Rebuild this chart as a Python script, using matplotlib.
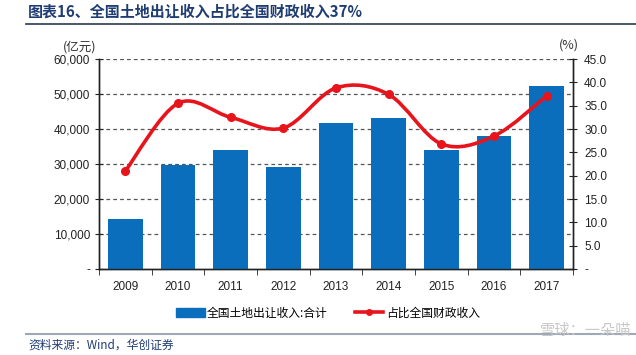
import numpy as np
import matplotlib
matplotlib.use("Agg")
import matplotlib.pyplot as plt
from matplotlib.path import Path
from matplotlib.patches import PathPatch
from matplotlib.lines import Line2D
from matplotlib.ticker import FuncFormatter

plt.rcParams['font.family'] = ['Liberation Sans', 'Noto Sans CJK SC', 'DejaVu Sans']

years = ['2009', '2010', '2011', '2012', '2013', '2014', '2015', '2016', '2017']
land_income = [14240, 29700, 33950, 29150, 41600, 43200, 34000, 37900, 52300]
share_pct = [21.0, 35.5, 32.5, 30.2, 38.8, 37.4, 26.8, 28.5, 37.1]

BLUE = '#0a6ebd'
RED = '#e8141c'
NAVY = '#1f3c73'
CJK = ['Noto Sans CJK SC', 'DejaVu Sans']


def smooth_path(xs, ys):
    # Excel style smoothed line: cubic bezier through every point
    pts = np.column_stack([xs, ys]).astype(float)
    n = len(pts)
    verts = [pts[0]]
    codes = [Path.MOVETO]
    for i in range(n - 1):
        p0 = pts[i - 1] if i > 0 else pts[i]
        p1 = pts[i]
        p2 = pts[i + 1]
        p3 = pts[i + 2] if i + 2 < n else pts[i + 1]
        c1 = p1 + (p2 - p0) / 6.0
        c2 = p2 - (p3 - p1) / 6.0
        verts += [c1, c2, p2]
        codes += [Path.CURVE4] * 3
    return Path(verts, codes)


fig = plt.figure(figsize=(6.36, 3.55), dpi=100)
ax = fig.add_axes([99 / 636, 86 / 355, 474 / 636, 210 / 355])
ax2 = ax.twinx()

x = np.arange(len(years))
ax.bar(x, land_income, width=0.66, color=BLUE, zorder=3)
ax.set_xlim(-0.5, len(years) - 0.5)
ax.set_ylim(0, 60000)
ax.set_yticks(np.arange(0, 60001, 10000))
ax.yaxis.set_major_formatter(FuncFormatter(lambda v, p: '-' if v == 0 else f'{int(v):,}'))
for v in range(10000, 60001, 10000):
    ax.axhline(v, color='#555555', lw=0.9, ls=(0, (3, 2.5)), zorder=1)

ax.set_xticks(x)
ax.set_xticklabels(years)
ax.set_xticks(np.arange(-0.5, len(years)), minor=True)
ax.tick_params(axis='x', which='major', length=0, pad=9, labelsize=8.5, colors='#222222')
ax.tick_params(axis='x', which='minor', length=4, direction='out', color='#222222')
ax.tick_params(axis='y', direction='inout', length=6, labelsize=8.5, colors='#222222')

ax2.set_ylim(0, 45)
ax2.set_yticks(np.arange(0, 45.1, 5))
ax2.yaxis.set_major_formatter(FuncFormatter(lambda v, p: '-' if v == 0 else f'{v:.1f}'))
ax2.tick_params(axis='y', direction='inout', length=6, labelsize=8.5, colors='#222222', pad=5)

for a in (ax, ax2):
    a.spines['top'].set_visible(False)
    for s in ('left', 'right', 'bottom'):
        a.spines[s].set_color('#222222')
        a.spines[s].set_linewidth(1.0)

ax2.add_patch(PathPatch(smooth_path(x, share_pct), facecolor='none', edgecolor=RED,
                        lw=2.6, zorder=4, transform=ax2.transData))
ax2.plot(x, share_pct, ls='none', marker='o', ms=5.5, color=RED, zorder=5)

fig.text(80 / 636, 1 - 47 / 355, '(亿元)', ha='center', va='center', fontsize=9,
         family=CJK, color='#333333')
fig.text(569 / 636, 1 - 45 / 355, '(%)', ha='center', va='center', fontsize=9,
         family=CJK, color='#333333')

# title and separators
fig.text(28 / 636, 1 - 12 / 355, '图表16、全国土地出让收入占比全国财政收入37%', ha='left', va='center',
         fontsize=10.8, fontweight='bold', family=CJK, color=NAVY)
fig.add_artist(Line2D([26 / 636, 1], [1 - 24 / 355] * 2, color='#3a4a5a', lw=1.3))
fig.add_artist(Line2D([26 / 636, 1], [1 - 334 / 355] * 2, color='#a0a8b8', lw=1.5))
fig.text(28 / 636, 1 - 345 / 355, '资料来源：Wind，华创证券', ha='left', va='center',
         fontsize=8.5, style='italic', family=CJK, color=NAVY)
fig.text(586 / 636, 1 - 330 / 355, '雪球：一朵喵', ha='center', va='center',
         fontsize=11, family=CJK, color='#c8c8c8')

# legend
handles = [plt.Rectangle((0, 0), 1, 1, color=BLUE),
           Line2D([], [], color=RED, lw=2.6, marker='o', ms=4)]
leg = fig.legend(handles, ['全国土地出让收入:合计', '占比全国财政收入'],
                 loc='center', bbox_to_anchor=(328 / 636, 1 - 313 / 355), ncol=2,
                 frameon=False, prop={'family': CJK, 'size': 8.5},
                 handlelength=2.4, handletextpad=0.2, columnspacing=2.3)

fig.savefig('out.png', dpi=100)
